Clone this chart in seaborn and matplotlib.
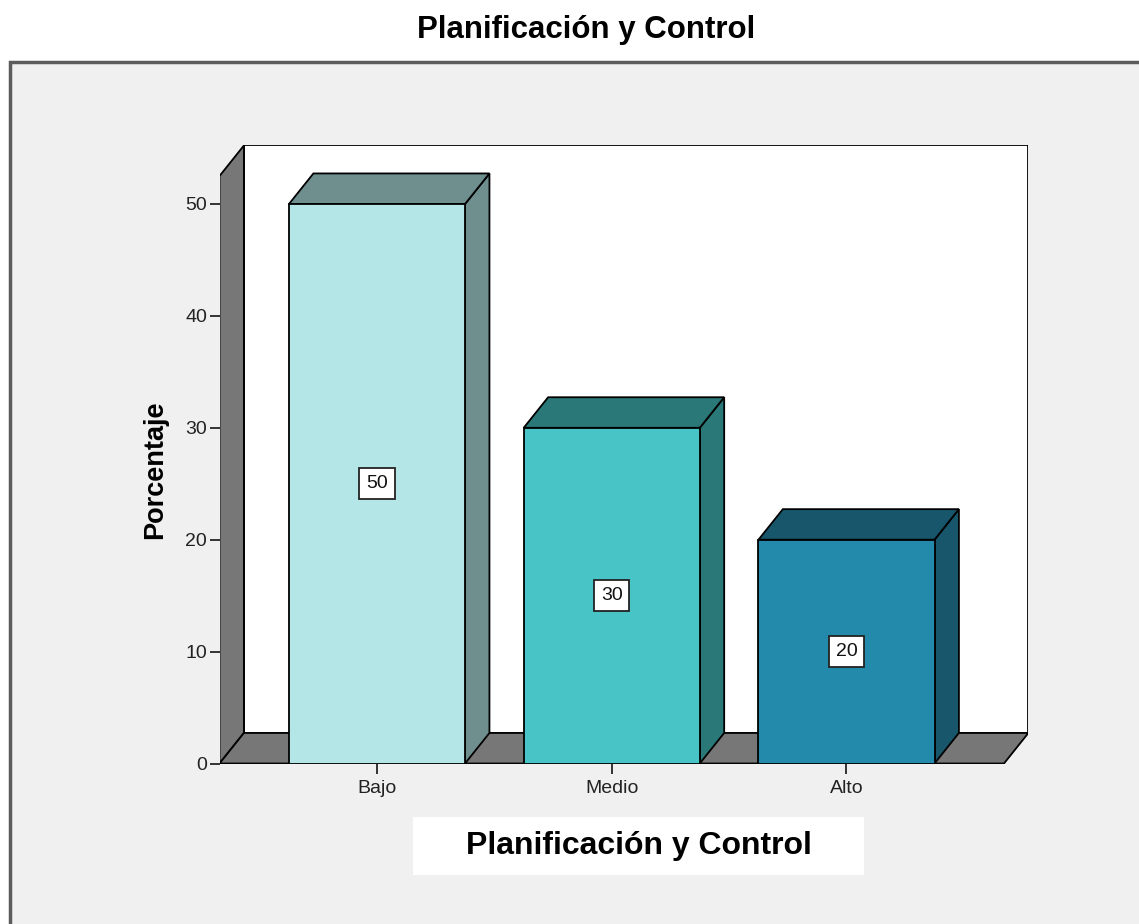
import matplotlib
matplotlib.use("Agg")
import matplotlib.pyplot as plt
import seaborn as sns
import pandas as pd
from matplotlib.patches import Polygon, Rectangle

# ---- data ----
categories = ["Bajo", "Medio", "Alto"]
values = [50, 30, 20]
yticks = [0, 10, 20, 30, 40, 50]
title = "Planificación y Control"
xlabel = "Planificación y Control"
ylabel = "Porcentaje"

# ---- styles ----
front_colors = ["#b4e6e7", "#48c3c6", "#238aab"]
shade_colors = ["#6f8f8f", "#2b7878", "#18566b"]
wall_color = "#777777"

sns.set_theme(style="white")
plt.rcParams['font.family'] = ['Liberation Sans', 'DejaVu Sans']

W, H = 1139, 924
fig = plt.figure(figsize=(W / 100, H / 100), dpi=100)
fig.patch.set_facecolor("white")

# outer SPSS-like frame
frame = Rectangle((10 / W, -0.05), 1.1, (H - 62) / H + 0.05, transform=fig.transFigure,
                  facecolor="#f0f0f0", edgecolor="#5c5c5c", lw=2.5, zorder=0)
fig.add_artist(frame)

# x-label white box
box = Rectangle((413 / W, (H - 875) / H), (864 - 413) / W, (875 - 817) / H,
                transform=fig.transFigure, facecolor="white", edgecolor="none", zorder=1)
fig.add_artist(box)

# geometry (data units)
x0, x1 = -0.671, 2.671       # front floor extent
dx, dy = 0.104, 2.73         # depth offsets
ytopf = 52.5                 # top of front frame
bw = 0.75

ax = fig.add_axes([219.5 / W, (H - 763.5) / H, 808.9 / W, (52.5 + 2.73) * 11.19 / H])
ax.set_facecolor("none")
ax.patch.set_alpha(0)

# back wall
ax.add_patch(Polygon([(x0 + dx, dy), (x1 + dx, dy), (x1 + dx, ytopf + dy), (x0 + dx, ytopf + dy)],
                     closed=True, facecolor="white", edgecolor="black", lw=1.3, zorder=1))
# left wall
ax.add_patch(Polygon([(x0, 0), (x0 + dx, dy), (x0 + dx, ytopf + dy), (x0, ytopf)],
                     closed=True, facecolor=wall_color, edgecolor="black", lw=1.3, zorder=1.1))
# floor
ax.add_patch(Polygon([(x0, 0), (x1, 0), (x1 + dx, dy), (x0 + dx, dy)],
                     closed=True, facecolor=wall_color, edgecolor="black", lw=1.3, zorder=1.1))

df = pd.DataFrame({"cat": categories, "val": values})
sns.barplot(data=df, x="cat", y="val", hue="cat", palette=front_colors, legend=False,
            width=bw, saturation=1, edgecolor="black", linewidth=1.3, ax=ax, zorder=3)

for i, (v, sc) in enumerate(zip(values, shade_colors)):
    xl, xr = i - bw / 2, i + bw / 2
    ax.add_patch(Polygon([(xr, 0), (xr + dx, dy), (xr + dx, v + dy), (xr, v)],
                         closed=True, facecolor=sc, edgecolor="black", lw=1.3, zorder=2))
    ax.add_patch(Polygon([(xl, v), (xl + dx, v + dy), (xr + dx, v + dy), (xr, v)],
                         closed=True, facecolor=sc, edgecolor="black", lw=1.3, zorder=2))
    ax.text(i, v / 2, f"{v}", ha="center", va="center", fontsize=14, color="#111111", zorder=5,
            bbox=dict(boxstyle="square,pad=0.35", facecolor="white", edgecolor="#222222", lw=1.3))

ax.set_xlim(x0, x1 + dx)
ax.set_ylim(0, ytopf + dy)
ax.set_yticks(yticks)
ax.set_yticklabels([str(t) for t in yticks])
for s in ax.spines.values():
    s.set_visible(False)
ax.tick_params(axis="both", bottom=True, left=True, direction="out", length=7, width=1.4,
               color="#333333", labelsize=14, labelcolor="#222222")
ax.tick_params(axis="y", pad=2)
ax.tick_params(axis="x", pad=5)

ax.set_xlabel("")
ax.set_ylabel(ylabel, fontsize=19.5, fontweight="bold", color="black")
ax.yaxis.set_label_coords(-0.064, (763.5 - 470) / ((52.5 + 2.73) * 11.19))

fig.text(638.5 / W, (H - 846) / H, xlabel, ha="center", va="center", fontsize=23,
         fontweight="bold", color="black", zorder=2)
fig.text(586 / W, (H - 30) / H, title, ha="center", va="center", fontsize=22.5,
         fontweight="bold", color="black")

fig.savefig("out.png", dpi=100, facecolor="white")
